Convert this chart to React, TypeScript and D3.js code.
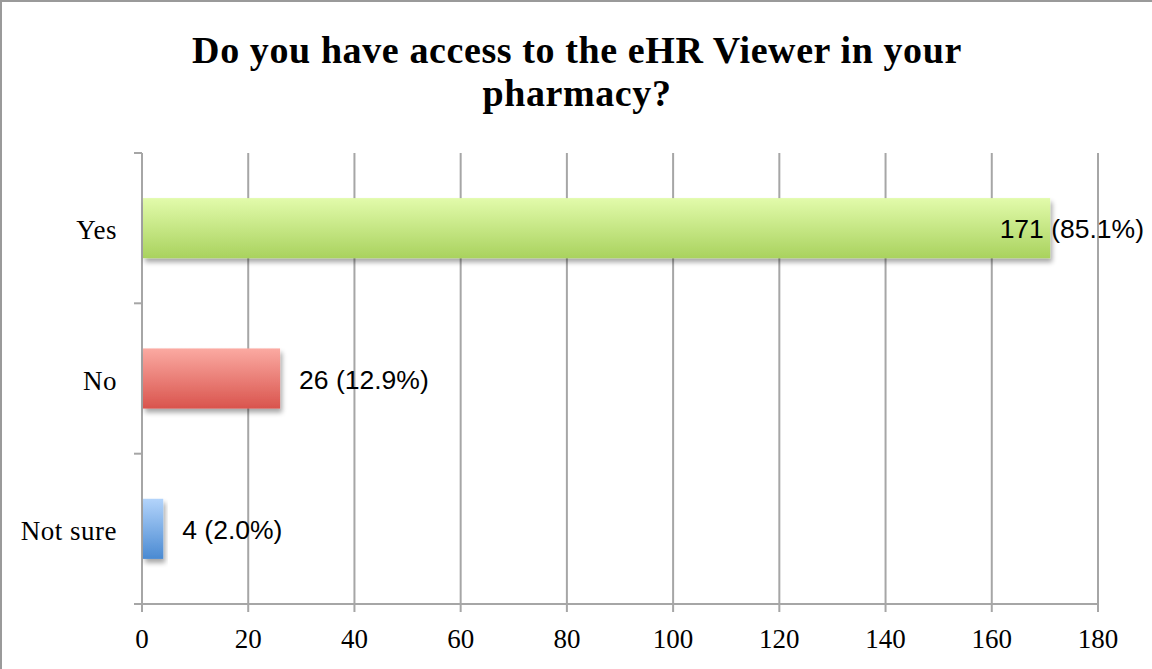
import React from "react";
import * as d3 from "d3";

const categories = ["Yes", "No", "Not sure"];
const counts = [171, 26, 4];
const percents = ["85.1%", "12.9%", "2.0%"];
const xTicks = [0, 20, 40, 60, 80, 100, 120, 140, 160, 180];
const titleLines = ["Do you have access to the eHR Viewer in your", "pharmacy?"];
const gradients = [
  ["#e2fbab", "#a9d25e"],
  ["#fbaaa2", "#d9544d"],
  ["#b3d4fb", "#4a8ad2"],
];

const W = 1152;
const H = 669;

export default function App() {
  const x = d3.scaleLinear().domain([0, 180]).range([142, 1098]);
  const y = d3.scaleBand().domain(categories).range([153, 604]).paddingInner(0.6).paddingOuter(0.3);
  const band = d3.scaleBand().domain(categories).range([153, 604]);
  const serif = "'Liberation Serif', 'DejaVu Serif', serif";
  const sans = "'Liberation Sans', Arial, sans-serif";
  return (
    <svg width={W} height={H} style={{ position: "absolute", left: 0, top: 0, display: "block" }}>
      <defs>
        {gradients.map((g, i) => (
          <linearGradient key={i} id={`g${i}`} x1="0" y1="0" x2="0" y2="1">
            <stop offset="0" stopColor={g[0]} />
            <stop offset="1" stopColor={g[1]} />
          </linearGradient>
        ))}
        <filter id="shadow" x="-10%" y="-20%" width="130%" height="160%">
          <feGaussianBlur in="SourceAlpha" stdDeviation="2.5" />
          <feOffset dx="2" dy="4" result="b" />
          <feComponentTransfer><feFuncA type="linear" slope="0.35" /></feComponentTransfer>
          <feMerge><feMergeNode /><feMergeNode in="SourceGraphic" /></feMerge>
        </filter>
      </defs>
      <rect x={0} y={0} width={W} height={H} fill="#fff" />
      <line x1={1} x2={1} y1={0} y2={H} stroke="#9a9a9a" strokeWidth={2} />
      <line x1={0} x2={W} y1={1} y2={1} stroke="#9a9a9a" strokeWidth={2} />
      {titleLines.map((t, i) => (
        <text key={i} x={577} y={63 + i * 43} textAnchor="middle" fontFamily={serif} fontWeight="bold" fontSize={38} letterSpacing={0.6} fill="#000">{t}</text>
      ))}
      {xTicks.map((t) => (
        <g key={t}>
          <line x1={x(t)} x2={x(t)} y1={153} y2={612} stroke="#a6a6a6" strokeWidth={2} />
          <text x={x(t)} y={648} textAnchor="middle" fontFamily={serif} fontSize={27} fill="#000">{t}</text>
        </g>
      ))}
      <line x1={134} x2={x(180)} y1={604} y2={604} stroke="#a6a6a6" strokeWidth={2} />
      {[153, 303.3, 453.7].map((v, i) => (
        <line key={i} x1={134} x2={142} y1={v} y2={v} stroke="#a6a6a6" strokeWidth={2} />
      ))}
      {categories.map((c, i) => {
        const by = y(c) as number;
        const bh = y.bandwidth();
        const cy = (band(c) as number) + band.bandwidth() / 2;
        const end = x(counts[i]);
        const label = `${counts[i]} (${percents[i]})`;
        const overflow = end + 19 + label.length * 13 > W - 5;
        return (
          <g key={c}>
            <rect x={x(0) + 1} y={by} width={end - x(0) - 1} height={bh} fill={`url(#g${i})`} filter="url(#shadow)" />
            <text x={117} y={cy + 11} textAnchor="end" fontFamily={serif} fontSize={27} letterSpacing={0.5} fill="#000">{c}</text>
            <text x={overflow ? 1144 : end + 19} y={cy + 10} textAnchor={overflow ? "end" : "start"} fontFamily={sans} fontSize={26.5} fill="#000">{label}</text>
          </g>
        );
      })}
    </svg>
  );
}
